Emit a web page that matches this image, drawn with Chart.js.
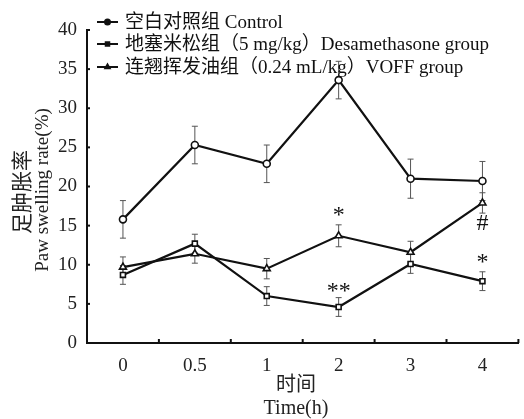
<!DOCTYPE html>
<html>
<head>
<meta charset="utf-8">
<script src="https://cdn.jsdelivr.net/npm/chart.js@4"></script>
<style>
  html, body { margin: 0; padding: 0; background: #fff; }
  #wrap { width: 524px; height: 419px; }
</style>
</head>
<body>
<div id="wrap"><canvas id="chart" width="524" height="419"></canvas></div>
<script>
// data
const timeLabels = ['0', '0.5', '1', '2', '3', '4'];
const controlMean = [15.8, 25.3, 22.9, 33.6, 21.0, 20.7];
const controlErr = [2.4, 2.4, 2.4, 2.4, 2.5, 2.5];
const dexMean = [8.7, 12.7, 6.0, 4.6, 10.1, 7.9];
const dexErr = [1.2, 1.2, 1.2, 1.2, 1.2, 1.2];
const voffMean = [9.7, 11.4, 9.5, 13.7, 11.6, 17.9];
const voffErr = [1.3, 1.2, 1.3, 1.4, 1.4, 1.3];
const yTicks = [0, 5, 10, 15, 20, 25, 30, 35, 40];
// significance marks: category index, y value, text
const marks = [
    { idx: 3, y: 16.3, text: '*' },
    { idx: 3, y: 6.5, text: '**' },
    { idx: 5, y: 15.2, text: '#' },
    { idx: 5, y: 10.3, text: '*' }
];

const serif = '"Liberation Serif", "DejaVu Serif", serif';
const cjk = '"Liberation Serif", "Noto Sans CJK SC", serif';

// error bars drawn through the scales
const errorBars = {
    id: 'errorBars',
    beforeDatasetsDraw(chart) {
        const ctx = chart.ctx;
        const x = chart.scales.x, y = chart.scales.y;
        ctx.save();
        ctx.strokeStyle = '#555';
        ctx.lineWidth = 1;
        chart.data.datasets.forEach(ds => {
            ds.data.forEach((v, i) => {
                const px = x.getPixelForValue(i);
                const top = y.getPixelForValue(v + ds.err[i]);
                const bot = y.getPixelForValue(v - ds.err[i]);
                ctx.beginPath();
                ctx.moveTo(px, top); ctx.lineTo(px, bot);
                ctx.moveTo(px - 3, top); ctx.lineTo(px + 3, top);
                ctx.moveTo(px - 3, bot); ctx.lineTo(px + 3, bot);
                ctx.stroke();
            });
        });
        ctx.restore();
    }
};

// inward tick marks, significance marks, legend, axis titles
const extras = {
    id: 'extras',
    afterDraw(chart) {
        const ctx = chart.ctx;
        const x = chart.scales.x, y = chart.scales.y;
        const area = chart.chartArea;
        ctx.save();
        ctx.strokeStyle = '#111';
        ctx.lineWidth = 2;
        // y ticks
        yTicks.forEach(t => {
            const py = y.getPixelForValue(t);
            ctx.beginPath();
            ctx.moveTo(area.left, py); ctx.lineTo(area.left + 3, py);
            ctx.stroke();
        });
        // x ticks at category boundaries
        for (let i = 0; i <= timeLabels.length; i++) {
            const px = x.getPixelForValue(i - 0.5);
            ctx.beginPath();
            ctx.moveTo(px, area.bottom); ctx.lineTo(px, area.bottom - 4);
            ctx.stroke();
        }
        // significance marks
        ctx.fillStyle = '#111';
        ctx.font = '24px ' + serif;
        ctx.textAlign = 'center';
        ctx.textBaseline = 'middle';
        marks.forEach(m => {
            ctx.fillText(m.text, x.getPixelForValue(m.idx), y.getPixelForValue(m.y));
        });
        // legend
        const rows = [22, 44, 67];
        ctx.font = '19px ' + cjk;
        ctx.textAlign = 'left';
        chart.data.datasets.forEach((ds, i) => {
            const ry = rows[i];
            ctx.strokeStyle = '#111';
            ctx.lineWidth = 2;
            ctx.beginPath();
            ctx.moveTo(97, ry); ctx.lineTo(118, ry);
            ctx.stroke();
            Chart.helpers.drawPoint(ctx, {
                pointStyle: ds.pointStyle, radius: 2.5, borderWidth: 1.5
            }, 107.5, ry);
            ctx.fillStyle = '#111';
            ctx.fillText(ds.label, 125, ry + 1);
        });
        // x title
        ctx.fillStyle = '#222';
        ctx.textAlign = 'center';
        ctx.font = '20px ' + cjk;
        ctx.fillText('时间', 296, 386);
        ctx.fillText('Time(h)', 296, 409);
        // y title
        ctx.translate(0, 0);
        ctx.save();
        ctx.translate(23, 192);
        ctx.rotate(-Math.PI / 2);
        ctx.font = '21px ' + cjk;
        ctx.fillText('足肿胀率', 0, 0);
        ctx.restore();
        ctx.save();
        ctx.translate(43, 190);
        ctx.rotate(-Math.PI / 2);
        ctx.font = '19px ' + serif;
        ctx.fillText('Paw swelling rate(%)', 0, 0);
        ctx.restore();
        ctx.restore();
    }
};

function series(label, data, err, style) {
    return {
        label: label,
        data: data,
        err: err,
        borderColor: '#111',
        borderWidth: 2.2,
        pointStyle: style,
        pointRadius: style === 'triangle' ? 4 : 3.5,
        pointBackgroundColor: '#fff',
        pointBorderColor: '#111',
        pointBorderWidth: 1.6,
        tension: 0
    };
}

new Chart(document.getElementById('chart').getContext('2d'), {
    type: 'line',
    data: {
        labels: timeLabels,
        datasets: [
            series('空白对照组 Control', controlMean, controlErr, 'circle'),
            series('地塞米松组（5 mg/kg）Desamethasone group', dexMean, dexErr, 'rect'),
            series('连翘挥发油组（0.24 mL/kg）VOFF group', voffMean, voffErr, 'triangle')
        ]
    },
    options: {
        responsive: false,
        animation: false,
        layout: { padding: { top: 30, right: 1, left: 0, bottom: 0 } },
        plugins: {
            legend: { display: false },
            tooltip: { enabled: false }
        },
        scales: {
            x: {
                type: 'category',
                offset: true,
                grid: { display: false, offset: true },
                border: { color: '#111', width: 2 },
                ticks: { color: '#222', font: { family: serif, size: 19 }, padding: 4 },
                afterFit(s) { s.height = 76; }
            },
            y: {
                min: 0,
                max: 40,
                grid: { display: false },
                border: { color: '#111', width: 2 },
                ticks: { stepSize: 5, color: '#222', font: { family: serif, size: 19 }, padding: 2 },
                afterFit(s) { s.width = 87; }
            }
        }
    },
    plugins: [errorBars, extras]
});
</script>
</body>
</html>
